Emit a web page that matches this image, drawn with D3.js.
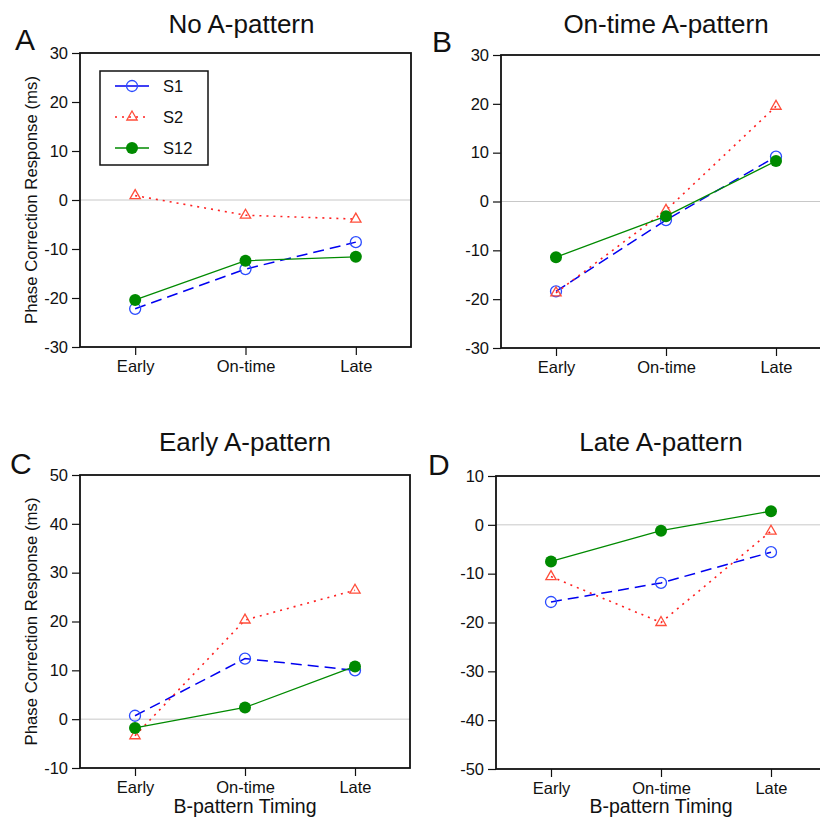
<!DOCTYPE html>
<html>
<head>
<meta charset="utf-8">
<script src="https://cdn.jsdelivr.net/npm/d3@7"></script>
<style>
  body { margin: 0; background: #fff; }
  svg { display: block; font-family: "Liberation Sans", Arial, sans-serif; }
</style>
</head>
<body>
<svg id="chart" width="820" height="819"></svg>
<script>
// B-pattern timing categories (x axis)
let timings = ["Early", "On-time", "Late"];
let seriesNames = ["S1", "S2", "S12"];
let panelTitles = ["No A-pattern", "On-time A-pattern", "Early A-pattern", "Late A-pattern"];
let panelLetters = ["A", "B", "C", "D"];
let yDomains = [[-30, 30], [-30, 30], [-10, 50], [-50, 10]];

// values, one array per panel per series
let noA_S1 = [-22.2, -14.1, -8.6];
let noA_S2 = [0.9, -3.1, -3.9];
let noA_S12 = [-20.4, -12.4, -11.6];

let onTime_S1 = [-18.4, -3.8, 9.2];
let onTime_S2 = [-18.7, -1.8, 19.5];
let onTime_S12 = [-11.4, -3.0, 8.3];

let early_S1 = [0.7, 12.4, 10.0];
let early_S2 = [-3.4, 20.3, 26.4];
let early_S12 = [-1.8, 2.4, 10.8];

let late_S1 = [-15.8, -11.9, -5.6];
let late_S2 = [-10.6, -20.0, -1.3];
let late_S12 = [-7.5, -1.2, 2.8];

let panelData = [
    [noA_S1, noA_S2, noA_S12],
    [onTime_S1, onTime_S2, onTime_S12],
    [early_S1, early_S2, early_S12],
    [late_S1, late_S2, late_S12]
];

// plot frames [left, right, top, bottom]
let frames = [
    [80, 411, 53, 347],
    [501, 831, 55, 348],
    [80, 410, 475, 768],
    [496, 826, 476, 769]
];

let styles = [
    {line: "#0000f0", mark: "#2a4bff", dash: "11,6", width: 1.5, shape: "circle"},
    {line: "#ff2020", mark: "#ff4d3a", dash: "2,5", width: 1.6, shape: "triangle"},
    {line: "#008a00", mark: "#008a00", dash: null, width: 1.3, shape: "dot"}
];

let svg = d3.select("#chart");

function drawMarker(g, shape, x, y) {
    if (shape === "circle") {
        g.append("circle").attr("cx", x).attr("cy", y).attr("r", 5.5)
            .attr("fill", "none").attr("stroke", styles[0].mark).attr("stroke-width", 1.3);
    } else if (shape === "triangle") {
        g.append("path").attr("d", d3.symbol().type(d3.symbolTriangle).size(46)())
            .attr("transform", "translate(" + x + "," + y + ")")
            .attr("fill", "none").attr("stroke", styles[1].mark).attr("stroke-width", 1.3);
    } else {
        g.append("circle").attr("cx", x).attr("cy", y).attr("r", 6)
            .attr("fill", styles[2].mark);
    }
}

panelData.forEach((series, p) => {
    let [x0, x1, y0, y1] = frames[p];
    let g = svg.append("g");

    let x = d3.scalePoint().domain(timings).range([x0, x1]).padding(0.5);
    let y = d3.scaleLinear().domain(yDomains[p]).range([y1, y0]);

    // zero line
    g.append("line")
        .attr("x1", x0).attr("x2", x1)
        .attr("y1", y(0)).attr("y2", y(0))
        .attr("stroke", "#c8c8c8").attr("stroke-width", 1);

    // axes (plain hyphen for negatives, like the original)
    let yAxis = g.append("g")
        .attr("transform", "translate(" + x0 + ",0)")
        .call(d3.axisLeft(y).tickValues(d3.range(yDomains[p][0], yDomains[p][1] + 1, 10))
            .tickFormat(d => String(d)).tickSize(8).tickPadding(4));
    let xAxis = g.append("g")
        .attr("transform", "translate(0," + y1 + ")")
        .call(d3.axisBottom(x).tickSize(8).tickPadding(5));
    [yAxis, xAxis].forEach(a => {
        a.select(".domain").remove();
        a.selectAll("line").attr("stroke", "#111").attr("stroke-width", 1.2);
        a.selectAll("text").attr("font-size", 16.5).attr("fill", "#111")
            .attr("font-family", "'Liberation Sans', Arial, sans-serif");
    });

    // frame
    g.append("rect")
        .attr("x", x0).attr("y", y0)
        .attr("width", x1 - x0).attr("height", y1 - y0)
        .attr("fill", "none").attr("stroke", "#111").attr("stroke-width", 1.8);

    // series
    series.forEach((vals, s) => {
        let st = styles[s];
        let line = d3.line().x((d, i) => x(timings[i])).y(d => y(d));
        g.append("path")
            .attr("d", line(vals))
            .attr("fill", "none")
            .attr("stroke", st.line)
            .attr("stroke-width", st.width)
            .attr("stroke-dasharray", st.dash);
        vals.forEach((v, i) => drawMarker(g, st.shape, x(timings[i]), y(v)));
    });

    // title and panel letter
    let titleY = p < 2 ? 33 : 451;
    g.append("text")
        .attr("x", (x0 + x1) / 2 - (p === 0 ? 4 : 0)).attr("y", titleY)
        .attr("text-anchor", "middle").attr("font-size", 26).attr("fill", "#111")
        .text(panelTitles[p]);
    let letterPos = [[15, 50], [432, 52], [10, 474], [428, 475]];
    g.append("text")
        .attr("x", letterPos[p][0]).attr("y", letterPos[p][1])
        .attr("font-size", 30).attr("fill", "#111")
        .text(panelLetters[p]);

    // y label on left panels
    if (p % 2 === 0) {
        g.append("text")
            .attr("transform", "translate(31," + ((y0 + y1) / 2) + ") rotate(-90)")
            .attr("text-anchor", "middle").attr("dy", "0.35em")
            .attr("font-size", 16.8).attr("fill", "#111")
            .text("Phase Correction Response (ms)");
    }
    // x label on bottom panels
    if (p >= 2) {
        g.append("text")
            .attr("x", (x0 + x1) / 2).attr("y", 813)
            .attr("text-anchor", "middle").attr("font-size", 19.5).attr("fill", "#111")
            .text("B-pattern Timing");
    }

    // legend in panel A
    if (p === 0) {
        let lg = g.append("g");
        lg.append("rect").attr("x", 100).attr("y", 71).attr("width", 108).attr("height", 94)
            .attr("fill", "#fff").attr("stroke", "#111").attr("stroke-width", 1.5);
        seriesNames.forEach((name, s) => {
            let st = styles[s];
            let ly = 86 + s * 31;
            lg.append("line").attr("x1", 115).attr("x2", 149).attr("y1", ly).attr("y2", ly)
                .attr("stroke", st.line).attr("stroke-width", st.width)
                .attr("stroke-dasharray", s === 1 ? "2,5" : null);
            drawMarker(lg, st.shape, 132, ly);
            lg.append("text").attr("x", 163).attr("y", ly).attr("dy", "0.35em")
                .attr("font-size", 16.5).attr("fill", "#111").text(name);
        });
    }
});
</script>
</body>
</html>
